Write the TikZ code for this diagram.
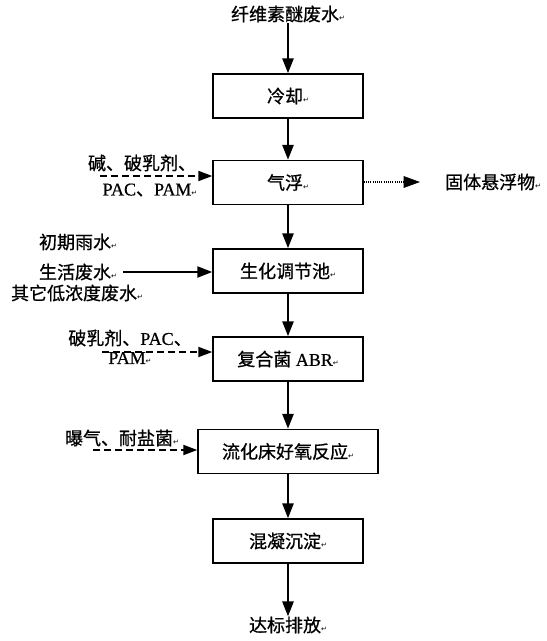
\documentclass[tikz,border=0pt]{standalone}
\usepackage{fontspec}
\setmainfont{Liberation Serif}[FakeBold=0.6]
\newfontfamily\cjk{Noto Sans CJK SC}[FakeBold=0.8]
\newfontfamily\symfont{DejaVu Sans}
\usetikzlibrary{positioning,arrows.meta}
\newcommand{\ret}{{\symfont\fontsize{7}{7}\selectfont ↵}}

\tikzset{
  box/.style={draw, line width=1.4pt, minimum width=150pt, minimum height=44pt, inner sep=0pt},
  flow/.style={line width=2.6pt, -{Triangle[length=15pt,width=11pt]}},
  feed/.style={line width=1.8pt, dash pattern=on 7pt off 4pt, -{Triangle[length=14pt,width=10pt]}},
  waste/.style={line width=1.2pt, dash pattern=on 1pt off 1.2pt},
  lbl/.style={inner sep=0pt}
}

\begin{document}
\begin{tikzpicture}[x=1pt, y=-1pt, font=\fontsize{18}{21}\selectfont]
  \useasboundingbox (0,0) rectangle (547,641);
  % Main line
  \node[lbl] (src) at (288,14) {\cjk 纤维素醚废水\ret};
  \node[box] (cool) at (288,96) {\cjk 冷却\ret};
  \node[box] (float) at (288,182.5) {\cjk 气浮\ret};
  \node[box] (tank) at (288,271) {\cjk 生化调节池\ret};
  \node[box] (abr) at (288,359) {{\cjk 复合菌} ABR\ret};
  \node[box, minimum width=180pt] (fbed) at (288,451.5) {\cjk 流化床好氧反应\ret};
  \node[box] (coag) at (288,541) {\cjk 混凝沉淀\ret};
  \node[lbl] (out) at (288,625) {\cjk 达标排放\ret};
  \foreach \a/\b in {src/cool, cool/float, float/tank, tank/abr, abr/fbed, fbed/coag, coag/out} {
    \draw[flow] (\a) -- (\b);
  }
  % Air flotation
  \node[lbl] (chem1) at (142,163) {\cjk 碱、破乳剂、};
  \node[lbl] (chem2) at (150,190) {PAC{\cjk 、}PAM\ret};
  \coordinate (f1) at (100,176);
  \draw[feed] (f1) -- (float.west |- f1);
  \node[lbl, anchor=west] (solid) at (445,182) {\cjk 固体悬浮物\ret};
  \coordinate (s1) at (419,182);
  \coordinate (s0) at (404,182);
  \draw[waste] (float.east |- s0) -- (s0);
  \filldraw[line width=0.6pt, line join=miter] (s1) -- (404,176.5) -- (404,187.5) -- cycle;
  % Other wastewater
  \node[lbl] (rain) at (78,242) {\cjk 初期雨水\ret};
  \node[lbl] (dom) at (78,272) {\cjk 生活废水\ret};
  \node[lbl] (low) at (77,293) {\cjk 其它低浓度废水\ret};
  \coordinate (f2) at (123,272);
  \draw[flow, line width=2.2pt] (f2) -- (tank.west |- f2);
  % ABR
  \node[lbl] (chem3) at (130,338) {{\cjk 破乳剂、}PAC{\cjk 、}};
  \node[lbl] (chem4) at (130,358) {PAM\ret};
  \coordinate (f3) at (102,352);
  \draw[feed] (f3) -- (abr.west |- f3);
  % Aerobic
  \node[lbl] (air) at (122,438) {\cjk 曝气、耐盐菌\ret};
  \coordinate (f4) at (93,450);
  \draw[feed] (f4) -- (fbed.west |- f4);
\end{tikzpicture}
\end{document}
